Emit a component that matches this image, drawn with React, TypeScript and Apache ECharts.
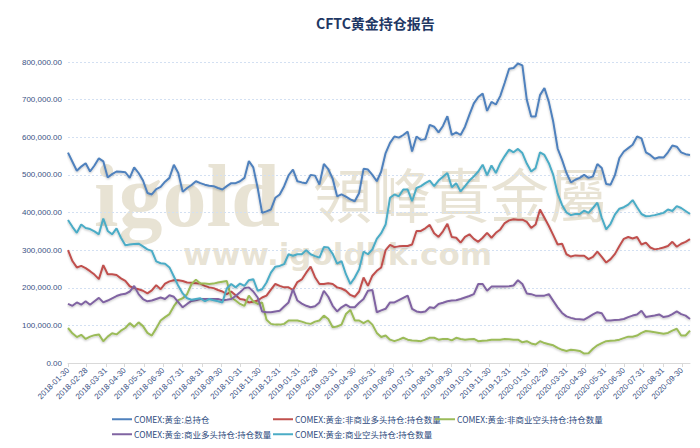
import React, { useEffect, useRef } from "react";
import * as echarts from "echarts";

const chartTitle = "CFTC黄金持仓报告";

const seriesNames = [
  "COMEX:黄金:总持仓",
  "COMEX:黄金:非商业多头持仓:持仓数量",
  "COMEX:黄金:非商业空头持仓:持仓数量",
  "COMEX:黄金:商业多头持仓:持仓数量",
  "COMEX:黄金:商业空头持仓:持仓数量",
];

const seriesColors = ["#4F81BD", "#C0504D", "#9BBB59", "#8064A2", "#4BACC6"];

// first weekly report date (one value per week after it)
const firstReportDate = "2018-01-30";

const tickLabels = [
  "2018-01-30", "2018-02-28", "2018-03-31", "2018-04-30", "2018-05-31", "2018-06-30",
  "2018-07-31", "2018-08-31", "2018-09-30", "2018-10-31", "2018-11-30", "2018-12-31",
  "2019-01-31", "2019-02-28", "2019-03-31", "2019-04-30", "2019-05-31", "2019-06-30",
  "2019-07-31", "2019-08-31", "2019-09-30", "2019-10-31", "2019-11-30", "2019-12-31",
  "2020-01-31", "2020-02-29", "2020-03-31", "2020-04-30", "2020-05-31", "2020-06-30",
  "2020-07-31", "2020-08-31", "2020-09-30",
];

const totalOI = [
  559000, 535000, 511000, 522000, 531000, 509000, 525000, 544000, 536000, 493000,
  502000, 509000, 508000, 507000, 492000, 520000, 505000, 485000, 452000, 448000,
  462000, 468000, 482000, 492000, 527000, 505000, 455000, 465000, 473000, 483000,
  478000, 474000, 471000, 470000, 465000, 461000, 470000, 478000, 478000, 483000,
  492000, 537000, 520000, 465000, 399000, 403000, 408000, 439000, 448000, 470000,
  499000, 514000, 483000, 480000, 478000, 500000, 498000, 474000, 529000, 515000,
  490000, 443000, 448000, 442000, 435000, 430000, 452000, 516000, 514000, 500000,
  483000, 509000, 558000, 585000, 602000, 599000, 606000, 615000, 562000, 602000,
  593000, 595000, 633000, 628000, 613000, 630000, 656000, 606000, 613000, 606000,
  628000, 660000, 690000, 707000, 716000, 670000, 694000, 687000, 710000, 745000,
  782000, 784000, 796000, 791000, 700000, 655000, 655000, 712000, 731000, 694000,
  641000, 570000, 540000, 505000, 480000, 487000, 492000, 500000, 492000, 496000,
  529000, 518000, 476000, 474000, 500000, 545000, 562000, 571000, 580000, 602000,
  597000, 560000, 553000, 543000, 547000, 546000, 560000, 578000, 575000, 560000,
  555000, 553000,
];

const nonCommLong = [
  300000, 271000, 254000, 258000, 252000, 244000, 235000, 223000, 260000, 236000,
  236000, 234000, 225000, 218000, 204000, 199000, 196000, 192000, 185000, 193000,
  207000, 196000, 211000, 217000, 220000, 220000, 218000, 214000, 213000, 212000,
  211000, 205000, 201000, 199000, 194000, 190000, 183000, 190000, 180000, 170000,
  168000, 161000, 163000, 166000, 174000, 179000, 195000, 210000, 205000, 201000,
  201000, 194000, 215000, 222000, 240000, 256000, 228000, 210000, 210000, 212000,
  210000, 201000, 198000, 192000, 181000, 176000, 190000, 227000, 205000, 232000,
  245000, 254000, 300000, 314000, 308000, 310000, 311000, 311000, 315000, 351000,
  351000, 358000, 367000, 345000, 335000, 350000, 370000, 335000, 333000, 320000,
  335000, 342000, 330000, 322000, 333000, 346000, 333000, 346000, 355000, 372000,
  379000, 382000, 381000, 381000, 375000, 359000, 368000, 408000, 386000, 364000,
  340000, 315000, 317000, 289000, 283000, 286000, 285000, 285000, 276000, 282000,
  296000, 282000, 267000, 276000, 290000, 311000, 330000, 335000, 331000, 335000,
  315000, 320000, 307000, 302000, 304000, 307000, 311000, 322000, 309000, 317000,
  322000, 329000,
];

const nonCommShort = [
  93000, 79000, 69000, 75000, 64000, 70000, 74000, 76000, 58000, 70000,
  79000, 76000, 86000, 93000, 106000, 96000, 108000, 98000, 80000, 73000,
  92000, 113000, 122000, 130000, 151000, 167000, 172000, 183000, 210000, 221000,
  211000, 211000, 210000, 211000, 214000, 216000, 218000, 174000, 166000, 157000,
  152000, 179000, 164000, 157000, 161000, 115000, 104000, 102000, 102000, 104000,
  113000, 113000, 113000, 110000, 106000, 104000, 110000, 113000, 126000, 117000,
  95000, 97000, 102000, 130000, 141000, 113000, 113000, 106000, 113000, 102000,
  80000, 69000, 73000, 62000, 58000, 62000, 67000, 62000, 60000, 59000,
  58000, 62000, 67000, 67000, 62000, 64000, 64000, 60000, 67000, 64000,
  62000, 63000, 64000, 58000, 59000, 60000, 62000, 62000, 62000, 64000,
  63000, 62000, 62000, 55000, 58000, 52000, 49000, 58000, 53000, 50000,
  47000, 40000, 35000, 32000, 35000, 34000, 32000, 25000, 26000, 38000,
  47000, 53000, 58000, 59000, 60000, 62000, 66000, 70000, 70000, 73000,
  80000, 85000, 84000, 82000, 80000, 78000, 80000, 86000, 91000, 73000,
  73000, 86000,
];

const commLong = [
  157000, 152000, 161000, 155000, 164000, 155000, 164000, 173000, 161000, 166000,
  172000, 178000, 182000, 184000, 190000, 205000, 183000, 170000, 164000, 166000,
  170000, 174000, 170000, 180000, 176000, 162000, 148000, 157000, 165000, 167000,
  170000, 170000, 170000, 170000, 170000, 167000, 168000, 170000, 178000, 188000,
  199000, 201000, 190000, 174000, 137000, 135000, 135000, 137000, 139000, 150000,
  161000, 196000, 166000, 158000, 152000, 148000, 151000, 161000, 192000, 176000,
  152000, 137000, 148000, 155000, 148000, 148000, 160000, 170000, 192000, 194000,
  135000, 140000, 144000, 161000, 161000, 167000, 173000, 179000, 144000, 137000,
  135000, 137000, 148000, 146000, 157000, 160000, 164000, 166000, 167000, 170000,
  174000, 178000, 183000, 210000, 210000, 192000, 203000, 203000, 203000, 203000,
  204000, 206000, 220000, 210000, 185000, 183000, 179000, 179000, 179000, 183000,
  165000, 148000, 133000, 124000, 120000, 117000, 116000, 115000, 122000, 129000,
  135000, 132000, 113000, 113000, 114000, 115000, 117000, 122000, 126000, 129000,
  139000, 122000, 124000, 126000, 129000, 122000, 124000, 130000, 137000, 130000,
  126000, 117000,
];

const commShort = [
  380000, 362000, 346000, 368000, 359000, 356000, 350000, 342000, 384000, 351000,
  342000, 358000, 333000, 313000, 315000, 316000, 317000, 310000, 302000, 298000,
  270000, 265000, 264000, 254000, 230000, 205000, 185000, 172000, 168000, 170000,
  172000, 164000, 170000, 167000, 164000, 161000, 198000, 210000, 201000, 211000,
  205000, 220000, 223000, 192000, 196000, 214000, 240000, 256000, 258000, 263000,
  289000, 285000, 289000, 289000, 300000, 289000, 284000, 280000, 308000, 307000,
  290000, 264000, 271000, 236000, 210000, 227000, 249000, 296000, 289000, 302000,
  330000, 345000, 368000, 439000, 448000, 443000, 461000, 461000, 430000, 465000,
  470000, 478000, 485000, 470000, 485000, 495000, 505000, 467000, 478000, 456000,
  470000, 485000, 496000, 509000, 527000, 499000, 525000, 505000, 531000, 550000,
  567000, 560000, 569000, 558000, 530000, 509000, 518000, 560000, 553000, 531000,
  500000, 450000, 420000, 400000, 393000, 396000, 396000, 405000, 399000, 412000,
  426000, 386000, 355000, 370000, 395000, 410000, 414000, 421000, 433000, 414000,
  396000, 390000, 391000, 393000, 396000, 399000, 408000, 404000, 417000, 412000,
  404000, 396000,
];

const yTicks = { min: 0, max: 800000, interval: 100000 };

const DAY = 86400000;

// day number (UTC based) of a yyyy-mm-dd string
function toDay(s: string): number {
  const [y, m, d] = s.split("-").map(Number);
  return Math.round(Date.UTC(y, m - 1, d) / DAY);
}

export default function App() {
  const ref = useRef<HTMLDivElement>(null);

  useEffect(() => {
    if (!ref.current) return;
    const chart = echarts.init(ref.current, null, { renderer: "svg" });
    const day0 = toDay(firstReportDate);
    const days = totalOI.map((_, i) => day0 + 7 * i);
    const tickDays = tickLabels.map(toDay);
    const fmtDate = (v: number) => {
      for (let k = 0; k < tickDays.length; k++) {
        if (Math.abs(tickDays[k] - v) < 0.5) return tickLabels[k];
      }
      return "";
    };
    const allSeries = [totalOI, nonCommLong, nonCommShort, commLong, commShort];
    const cjk = "'Noto Sans CJK SC', 'Noto Sans', sans-serif";
    const legendPos = [
      { left: 112, top: 415 },
      { left: 273, top: 415 },
      { left: 435, top: 415 },
      { left: 112, top: 430 },
      { left: 273, top: 430 },
    ];
    const wm = "rgba(200,188,152,0.42)";

    chart.setOption({
      animation: false,
      backgroundColor: "#ffffff",
      title: {
        text: chartTitle,
        left: 311,
        top: 11,
        textStyle: { fontSize: 14, fontWeight: "bold", color: "#1F3864", fontFamily: cjk },
      },
      graphic: [
        {
          type: "text",
          x: 94,
          y: 196,
          z: 0,
          silent: true,
          style: {
            text: "igold",
            font: "bold 88px 'Liberation Serif', serif",
            fill: wm,
            align: "left",
            verticalAlign: "middle",
          },
        },
        {
          type: "text",
          x: 313,
          y: 192,
          z: 0,
          silent: true,
          style: {
            text: "領峰貴金屬",
            font: "59px 'Noto Sans CJK TC', sans-serif",
            fill: wm,
            align: "left",
            verticalAlign: "middle",
          },
        },
        {
          type: "text",
          x: 183,
          y: 254,
          z: 0,
          silent: true,
          style: {
            text: "www.igoldhk.com",
            font: "bold 31px 'DejaVu Sans', sans-serif",
            fill: wm,
            align: "left",
            verticalAlign: "middle",
          },
        },
      ],
      legend: seriesNames.map((name, i) => ({
        left: legendPos[i].left,
        top: legendPos[i].top,
        data: [name],
        icon: "rect",
        itemWidth: 20,
        itemHeight: 2,
        itemGap: 0,
        padding: 0,
        textStyle: { fontSize: 8.5, color: "#2E4A7D", fontFamily: cjk, padding: [0, 0, 0, -3] },
      })),
      grid: { left: 68, right: 10, top: 62, bottom: 85 },
      xAxis: {
        type: "value",
        min: days[0],
        max: days[days.length - 1],
        axisLine: { show: true, onZero: false, lineStyle: { color: "#D9D9D9", width: 1 } },
        axisTick: {
          show: true,
          customValues: tickDays,
          length: 4,
          lineStyle: { color: "#D9D9D9" },
        },
        axisLabel: {
          customValues: tickDays,
          formatter: fmtDate,
          rotate: 45,
          fontSize: 8,
          color: "#3B5284",
          margin: 6,
          hideOverlap: false,
          showMinLabel: true,
          showMaxLabel: true,
          fontFamily: "'Liberation Sans', sans-serif",
        },
        splitLine: { show: false },
      },
      yAxis: {
        type: "value",
        min: yTicks.min,
        max: yTicks.max,
        interval: yTicks.interval,
        axisLine: { show: false },
        axisTick: { show: false },
        axisLabel: {
          fontSize: 8,
          color: "#3B5284",
          margin: 6,
          fontFamily: "'Liberation Sans', sans-serif",
          formatter: (v: number) =>
            v.toLocaleString("en-US", { minimumFractionDigits: 2, maximumFractionDigits: 2 }),
        },
        splitLine: { lineStyle: { color: "#D3E0F2", type: [2, 2], width: 1 } },
      },
      series: allSeries.map((arr, si) => ({
        name: seriesNames[si],
        type: "line",
        symbol: "none",
        z: 3,
        data: arr.map((v, i) => [days[i], v]),
        lineStyle: {
          width: 2,
          color: seriesColors[si],
          shadowColor: "rgba(0,0,0,0.25)",
          shadowBlur: 2,
          shadowOffsetY: 1,
        },
        itemStyle: { color: seriesColors[si] },
      })),
    });

    return () => chart.dispose();
  }, []);

  return (
    <div
      ref={ref}
      style={{ position: "absolute", left: 0, top: 0, width: 700, height: 448 }}
    />
  );
}
